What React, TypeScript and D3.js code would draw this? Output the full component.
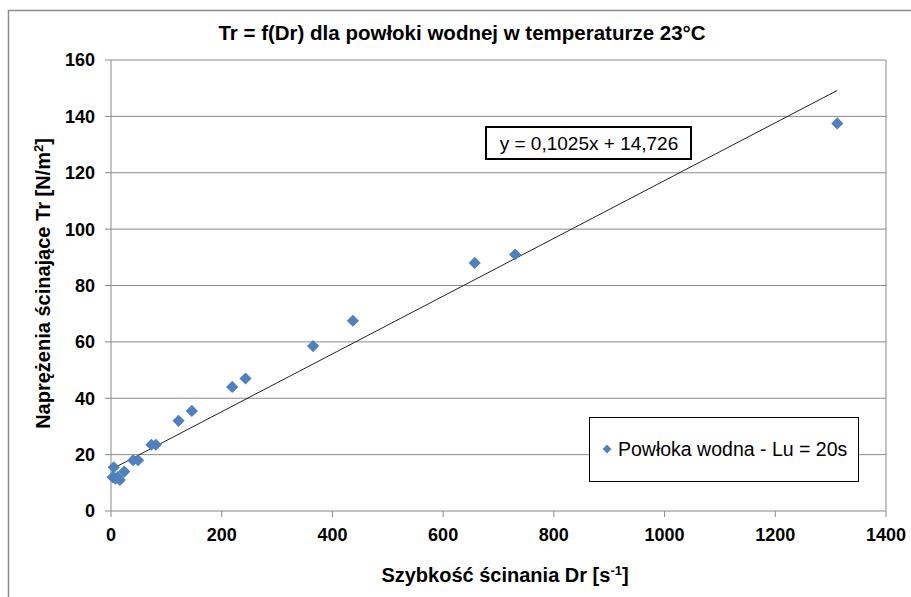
import React from 'react';
import * as d3 from 'd3';

// Szybkość ścinania Dr [1/s] i naprężenia ścinające Tr [N/m2]
const drValues = [3, 5, 8, 12, 16, 24, 40, 49, 73, 81, 122, 146, 219, 243, 365, 437, 657, 730, 1312];
const trValues = [12, 15.5, 11.5, 12, 11, 14, 18, 18, 23.5, 23.5, 32, 35.5, 44, 47, 58.5, 67.5, 88, 91, 137.5];
const xTicks = [0, 200, 400, 600, 800, 1000, 1200, 1400];
const yTicks = [0, 20, 40, 60, 80, 100, 120, 140, 160];
const trendSlope = 0.1025;
const trendIntercept = 14.726;

const W = 911;
const H = 597;
const margin = { top: 60, right: 25, bottom: 86, left: 111 };
const font = "'Liberation Sans', Arial, sans-serif";
const blue = '#4f81bd';

const App = () => {
  const x = d3.scaleLinear().domain([0, 1400]).range([margin.left, W - margin.right]);
  const y = d3.scaleLinear().domain([0, 160]).range([H - margin.bottom, margin.top]);
  const points = drValues.map((d, i) => ({ dr: d, tr: trValues[i] }));
  const diamond = d3.symbol().type(d3.symbolDiamond2).size(95)();
  const legendDiamond = d3.symbol().type(d3.symbolDiamond2).size(50)();
  const trendX = [0, d3.max(drValues) as number];
  const trendLine = d3.line<number>()
    .x((d) => x(d))
    .y((d) => y(trendSlope * d + trendIntercept))(trendX);

  const x0 = x(0);
  const x1 = x(1400);
  const y0 = y(0);
  const y1 = y(160);

  return (
    <svg width={W} height={H} style={{ position: 'absolute', left: 0, top: 0, background: '#fff' }}>
      {/* ramka wykresu */}
      <path d={`M8.5,${H} V10.5 H${W}`} fill="none" stroke="#8c8c8c" strokeWidth={1.5} />

      <text x={462} y={40} textAnchor="middle" fontFamily={font} fontWeight="bold" fontSize={20.5}>
        Tr = f(Dr) dla powłoki wodnej w temperaturze 23°C
      </text>

      {/* siatka */}
      {yTicks.map((t) => (
        <line key={t} x1={x0} x2={x1} y1={y(t)} y2={y(t)} stroke="#8a8a8a" strokeWidth={1} />
      ))}
      <line x1={x1} x2={x1} y1={y1} y2={y0} stroke="#8a8a8a" />
      <line x1={x0} x2={x0} y1={y1} y2={y0} stroke="#8a8a8a" />

      {yTicks.map((t) => (
        <g key={t}>
          <line x1={x0 - 6} x2={x0} y1={y(t)} y2={y(t)} stroke="#8a8a8a" />
          <text x={x0 - 16} y={y(t)} dy="0.36em" textAnchor="end" fontFamily={font} fontWeight="bold" fontSize={18}>
            {t}
          </text>
        </g>
      ))}
      {xTicks.map((t) => (
        <g key={t}>
          <line x1={x(t)} x2={x(t)} y1={y0} y2={y0 + 6} stroke="#8a8a8a" />
          <text x={x(t)} y={y0 + 30} textAnchor="middle" fontFamily={font} fontWeight="bold" fontSize={18}>
            {t}
          </text>
        </g>
      ))}

      <text
        transform={`translate(50, ${(y0 + y1) / 2 - 2}) rotate(-90)`}
        textAnchor="middle"
        fontFamily={font}
        fontWeight="bold"
        fontSize={20}
      >
        Naprężenia ścinające  Tr [N/m<tspan dy="-7" fontSize={13}>2</tspan><tspan dy="7">]</tspan>
      </text>
      <text x={505} y={582} textAnchor="middle" fontFamily={font} fontWeight="bold" fontSize={20}>
        Szybkość ścinania Dr [s<tspan dy="-7" fontSize={13}>-1</tspan><tspan dy="7">]</tspan>
      </text>

      {/* linia trendu */}
      <path d={trendLine || ''} fill="none" stroke="#222" strokeWidth={1} />

      {points.map((p, i) => (
        <path key={i} d={diamond} transform={`translate(${x(p.dr)}, ${y(p.tr)})`} fill={blue} />
      ))}

      {/* równanie */}
      <rect x={486} y={127} width={205} height={32} fill="#fff" stroke="#000" strokeWidth={2} />
      <text x={589} y={150} textAnchor="middle" fontFamily={font} fontSize={19}>
        y = 0,1025x + 14,726
      </text>

      {/* legenda */}
      <rect x={589.5} y={417.5} width={269} height={64} fill="#fff" stroke="#000" strokeWidth={1} />
      <path d={legendDiamond} transform="translate(607, 449)" fill={blue} />
      <text x={618} y={456} fontFamily={font} fontSize={19.5}>
        Powłoka wodna - Lu = 20s
      </text>
    </svg>
  );
};

export default App;
